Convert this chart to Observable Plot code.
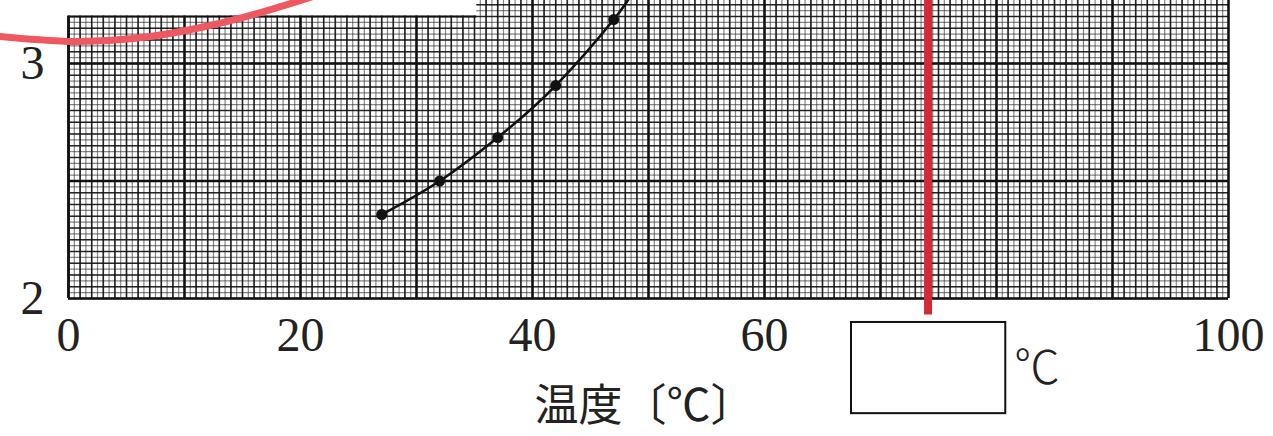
<!DOCTYPE html>
<html>
<head>
<meta charset="utf-8">
<script src="https://cdn.jsdelivr.net/npm/d3@7"></script>
<script src="https://cdn.jsdelivr.net/npm/@observablehq/plot@0.6"></script>
<style>
  html, body { margin: 0; padding: 0; background: #fff; }
  #chart svg { display: block; }
</style>
</head>
<body>
<div id="chart"></div>
<script>
// ---- data ----
const temperature = [27, 32, 37, 42, 47];
const measured = [2.357, 2.50, 2.685, 2.906, 3.187];
// fitted curve as drawn (continues past the top edge)
const curveT = [27, 32, 37, 42, 47, 48.6];
const curveV = [2.357, 2.50, 2.685, 2.906, 3.187, 3.30];
const xTickValues = [0, 20, 40, 60, 100];
const yTickValues = [2, 3];
const xLabel = "温度〔℃〕";
const unitLabel = "℃";
// red answer line (reading position) and red hand-drawn arc annotation
const answerT = 74.1;
const arcT = [-6, -0.1, 5.6, 11.4, 17.2, 22];
const arcV = [3.115, 3.094, 3.106, 3.153, 3.226, 3.30];
// answer box below the axis, in data units
const boxT = [67.5, 80.8];
const boxV = [1.51, 1.898];

const curve = curveT.map((t, i) => ({t, v: curveV[i]}));
const points = temperature.map((t, i) => ({t, v: measured[i]}));
const arc = arcT.map((t, i) => ({t, v: arcV[i]}));

const yTop = 3.268;
const minorX = d3.range(0, 100.01, 0.5);
const midX = d3.range(0, 100.01, 1);
const majorX = d3.range(0, 100.01, 10);
const minorY = d3.range(2, yTop, 0.025);
const midY = d3.range(2, yTop, 0.05);
const majorY = d3.range(2, yTop, 0.5);

const serif = "'Liberation Serif', 'DejaVu Serif', serif";

const chart = Plot.plot({
  width: 1273,
  height: 436,
  marginLeft: 68,
  marginRight: 45,
  marginTop: 0,
  marginBottom: 138,
  style: {background: "#fff", overflow: "visible"},
  x: {domain: [0, 100]},
  y: {domain: [2, yTop]},
  marks: [
    Plot.ruleX(minorX, {stroke: "#333", strokeWidth: 1.2, strokeOpacity: 0.6}),
    Plot.ruleY(minorY, {stroke: "#333", strokeWidth: 1.2, strokeOpacity: 0.6}),
    Plot.ruleX(midX, {stroke: "#111", strokeWidth: 1.6, strokeOpacity: 0.85}),
    Plot.ruleY(midY, {stroke: "#111", strokeWidth: 1.6, strokeOpacity: 0.85}),
    Plot.ruleX(majorX, {stroke: "#111", strokeWidth: 2.4}),
    Plot.ruleY(majorY, {stroke: "#111", strokeWidth: 2.4}),
    // white area at top-left where the paper is not printed
    Plot.rect([0], {x1: -6, x2: 35.2, y1: 3.202, y2: 3.4, fill: "#fff", clip: false}),
    Plot.ruleY([3.2], {x1: 0, x2: 35.2, stroke: "#111", strokeWidth: 1.8}),
    Plot.ruleX([0], {y1: 2, y2: 3.2, stroke: "#111", strokeWidth: 2.4}),
    // fitted curve and measured points
    Plot.line(curve, {x: "t", y: "v", curve: "natural", stroke: "#111", strokeWidth: 2.6, clip: true}),
    Plot.dot(points, {x: "t", y: "v", r: 5.5, fill: "#111", stroke: "none"}),
    // red annotations
    Plot.ruleX([answerT], {y1: 1.93, y2: 3.4, stroke: "#d42a35", strokeWidth: 8, clip: false}),
    Plot.line(arc, {x: "t", y: "v", curve: "natural", stroke: "#ee5860", strokeWidth: 7, clip: false}),
    // answer box and unit
    Plot.rect([0], {x1: boxT[0], x2: boxT[1], y1: boxV[0], y2: boxV[1], fill: "#fff", stroke: "#111", strokeWidth: 2, clip: false}),
    Plot.text([unitLabel], {x: boxT[1] + 2.7, y: (boxV[0] + boxV[1]) / 2, text: d => d, fontSize: 46, fontFamily: "'Noto Sans CJK JP', sans-serif", fontWeight: 300, fill: "#222", clip: false}),
    // axes
    Plot.axisX({ticks: xTickValues, tickSize: 0, tickPadding: 18, fontSize: 48, fontFamily: serif, fill: "#222",
      label: xLabel, labelAnchor: "center", labelArrow: "none", labelOffset: 122}),
    Plot.axisY({ticks: yTickValues, tickFormat: d3.format("d"), tickSize: 0, tickPadding: 24, fontSize: 48, fontFamily: serif, fill: "#222", label: null})
  ]
});

// style the x-axis label
chart.querySelectorAll("[aria-label='x-axis label'] text").forEach(t => {
  t.setAttribute("font-size", "44");
  t.setAttribute("font-family", "'Noto Sans CJK JP', sans-serif");
  t.setAttribute("dx", "-4");
});
document.getElementById("chart").appendChild(chart);
</script>
</body>
</html>
